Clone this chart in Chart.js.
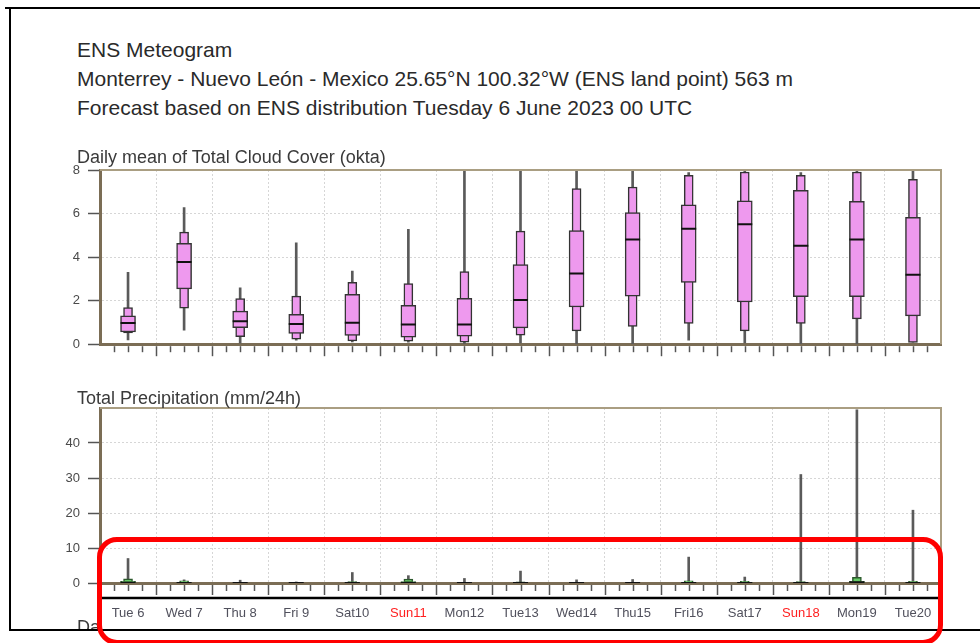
<!DOCTYPE html>
<html>
<head>
<meta charset="utf-8">
<script src="https://cdn.jsdelivr.net/npm/chart.js@4.4.0/dist/chart.umd.min.js"></script>
<style>
  html, body { margin: 0; padding: 0; background: #fff; }
  body { width: 980px; height: 643px; position: relative; overflow: hidden; font-family: "Liberation Sans", Arial, sans-serif; }
  .txt { position: absolute; color: #2a2a2a; white-space: nowrap; line-height: 1; }
  .head { font-size: 21px; left: 77px; }
  .ptitle { font-size: 18px; left: 77px; color: #3a3a3a; z-index: 3; }
  .line { position: absolute; background: #000; z-index: 4; }
  .panel { position: absolute; left: 0; width: 980px; }
  #redbox { position: absolute; left: 97px; top: 537px; width: 846px; height: 108px; box-sizing: border-box;
            border: 5px solid #ff0000; border-radius: 20px; z-index: 5; }
</style>
</head>
<body>

<div class="line" style="left:5px; top:7px; width:975px; height:2px;"></div>
<div class="line" style="left:9px; top:7px; width:2px; height:624px;"></div>
<div class="line" style="left:9px; top:629px; width:971px; height:2px;"></div>

<div class="txt head" style="top:39px;">ENS Meteogram</div>
<div class="txt head" style="top:68px;">Monterrey - Nuevo León - Mexico 25.65°N 100.32°W (ENS land point) 563 m</div>
<div class="txt head" style="top:97px;">Forecast based on ENS distribution Tuesday 6 June 2023 00 UTC</div>

<div class="panel" style="top:150px; height:210px;"><canvas id="cloud"></canvas></div>
<div class="txt ptitle" style="top:148px;">Daily mean of Total Cloud Cover (okta)</div>

<div class="panel" style="top:388px; height:255px;"><canvas id="precip"></canvas></div>
<div class="txt ptitle" style="top:389px;">Total Precipitation (mm/24h)</div>

<div class="txt ptitle" style="top:618px; height:12px; width:21px; overflow:hidden;">Daily mean</div>

<div id="redbox"></div>

<script>
// Days of the forecast
const days = ['Tue 6', 'Wed 7', 'Thu 8', 'Fri 9', 'Sat10', 'Sun11', 'Mon12', 'Tue13', 'Wed14', 'Thu15', 'Fri16', 'Sat17', 'Sun18', 'Mon19', 'Tue20'];
const sundays = ['Sun11', 'Sun18'];

// Cloud cover (okta): min, 10%, 25%, median, 75%, 90%, max
const cloudMin = [0.2, 0.64, 0.05, 0.18, 0.1, 0.09, 0.03, 0.06, 0.03, 0.03, 0.18, 0.06, 0.03, 0.03, 0.09];
const cloudP10 = [0.52, 1.66, 0.35, 0.23, 0.15, 0.14, 0.09, 0.41, 0.61, 0.82, 0.96, 0.61, 0.96, 1.16, 0.08];
const cloudP25 = [0.56, 2.54, 0.76, 0.49, 0.4, 0.32, 0.37, 0.75, 1.71, 2.21, 2.84, 1.94, 2.18, 2.18, 1.3];
const cloudMed = [0.97, 3.78, 1.05, 0.93, 0.98, 0.9, 0.9, 2.03, 3.25, 4.81, 5.3, 5.51, 4.52, 4.81, 3.19];
const cloudP75 = [1.3, 4.63, 1.52, 1.37, 2.29, 1.79, 2.11, 3.66, 5.22, 6.05, 6.4, 6.58, 7.07, 6.56, 5.83];
const cloudP90 = [1.68, 5.15, 2.09, 2.21, 2.84, 2.78, 3.33, 5.19, 7.15, 7.22, 7.76, 7.91, 7.76, 7.91, 7.57];
const cloudMax = [3.3, 6.27, 2.59, 4.66, 3.36, 5.27, 8, 8, 8, 8, 7.88, 7.94, 7.88, 8, 7.94];
const cloudTicks = [0, 2, 4, 6, 8];

// Total precipitation (mm/24h)
const precMin = [0, 0, 0, 0, 0, 0, 0, 0, 0, 0, 0, 0, 0, 0, 0];
const precP25 = [0, 0, 0, 0, 0, 0, 0, 0, 0, 0, 0, 0, 0, 0, 0];
const precMed = [0.1, 0, 0, 0, 0, 0, 0, 0, 0, 0, 0, 0, 0, 0.2, 0];
const precP75 = [0.5, 0.15, 0, 0, 0.05, 0.4, 0, 0, 0, 0, 0.15, 0.1, 0.1, 0.5, 0.15];
const precP90 = [1.2, 0.6, 0.1, 0.1, 0.4, 1.1, 0.15, 0.3, 0.1, 0.2, 0.6, 0.5, 0.4, 1.6, 0.5];
const precMax = [7.0, 0.9, 0.8, 0.3, 3.0, 2.1, 1.3, 3.4, 0.9, 1.0, 7.4, 1.7, 31, 49.5, 20.8];
const precTicks = [0, 10, 20, 30, 40];

const axisBrown = '#7b6d55';
const frameTan = '#aa9e82';

// box + whisker datasets built from the arrays
function boxDatasets(min, p10, p25, med, p75, p90, max, fill, edge) {
    return [
        { type: 'line', data: med, showLine: false, pointStyle: 'line', pointRadius: 7.5,
          pointBorderWidth: 2, pointBorderColor: '#111', pointBackgroundColor: '#111', order: 1 },
        { data: days.map((d, i) => [p25[i], p75[i]]), backgroundColor: fill, borderColor: edge,
          borderWidth: 1.5, borderSkipped: false, barThickness: 15, grouped: false, order: 2 },
        { data: days.map((d, i) => [p10[i], p90[i]]), backgroundColor: fill, borderColor: edge,
          borderWidth: 1.5, borderSkipped: false, barThickness: 9, grouped: false, order: 3 },
        { data: days.map((d, i) => [min[i], max[i]]), backgroundColor: '#5a5a5a', borderWidth: 0,
          barThickness: 2, grouped: false, order: 4 }
    ];
}

// frame of the plot area, 6-hourly ticks under the time axis
const meteoFrame = {
    id: 'meteoFrame',
    afterDraw(chart, args, opts) {
        const ctx = chart.ctx;
        const a = chart.chartArea;
        const x = chart.scales.x;
        ctx.save();
        ctx.strokeStyle = frameTan;
        ctx.lineWidth = 2;
        ctx.beginPath();
        ctx.moveTo(a.left, a.top);
        ctx.lineTo(a.right, a.top);
        ctx.lineTo(a.right, a.bottom);
        ctx.stroke();

        const w = x.getPixelForValue(1) - x.getPixelForValue(0);
        const x0 = x.getPixelForValue(0) - w / 2;
        ctx.strokeStyle = '#555';
        ctx.lineWidth = 1.5;
        for (let q = 1; q < days.length * 4; q++) {
            const px = Math.round(x0 + q * w / 4) + 0.5;
            const len = q % 4 === 0 ? 10 : 6;
            ctx.beginPath();
            ctx.moveTo(px, a.bottom + 2);
            ctx.lineTo(px, a.bottom + 2 + len);
            ctx.stroke();
        }
        if (opts.band) {
            ctx.strokeStyle = '#000';
            ctx.lineWidth = 2.5;
            ctx.beginPath();
            ctx.moveTo(a.left, a.bottom + 15);
            ctx.lineTo(a.right, a.bottom + 15);
            ctx.stroke();
        }
        ctx.restore();
    }
};

function makeOptions(yMax, yTicks, showDays, xHeight) {
    return {
        responsive: true,
        maintainAspectRatio: false,
        animation: false,
        events: [],
        layout: { padding: { left: 60, right: 39, top: 20, bottom: 0 } },
        plugins: { legend: { display: false }, tooltip: { enabled: false }, meteoFrame: { band: showDays } },
        scales: {
            x: {
                type: 'category',
                offset: true,
                grid: { offset: true, color: '#d6d6d6', lineWidth: 1, drawTicks: false },
                border: { display: true, color: axisBrown, width: 3, dash: [2, 2] },
                ticks: {
                    display: showDays,
                    padding: 23,
                    autoSkip: false,
                    maxRotation: 0,
                    font: { family: '"Liberation Sans", Arial, sans-serif', size: 13 },
                    color: ctx => sundays.includes(days[ctx.index]) ? '#ff2020' : '#50505c'
                },
                afterFit: s => { s.height = xHeight; }
            },
            y: {
                min: 0,
                max: yMax,
                afterBuildTicks: s => { s.ticks = yTicks.map(v => ({ value: v })); },
                grid: { color: '#d6d6d6', lineWidth: 1, tickLength: 12, tickColor: '#555', tickWidth: 1.5, tickBorderDash: [] },
                border: { display: true, color: axisBrown, width: 3, dash: [2, 2] },
                ticks: {
                    padding: 8,
                    color: '#4a4a4a',
                    font: { family: '"Liberation Sans", Arial, sans-serif', size: 13 }
                },
                afterFit: s => { s.width = 40; }
            }
        }
    };
}

new Chart(document.getElementById('cloud'), {
    type: 'bar',
    data: { labels: days, datasets: boxDatasets(cloudMin, cloudP10, cloudP25, cloudMed, cloudP75, cloudP90, cloudMax, '#ee99ee', '#333') },
    options: makeOptions(8, cloudTicks, false, 15),
    plugins: [meteoFrame]
});

new Chart(document.getElementById('precip'), {
    type: 'bar',
    data: { labels: days, datasets: boxDatasets(precMin, precMin, precP25, precMed, precP75, precP90, precMax, '#66cc66', '#2d5a2d') },
    options: makeOptions(50, precTicks, true, 60),
    plugins: [meteoFrame]
});
</script>
</body>
</html>
